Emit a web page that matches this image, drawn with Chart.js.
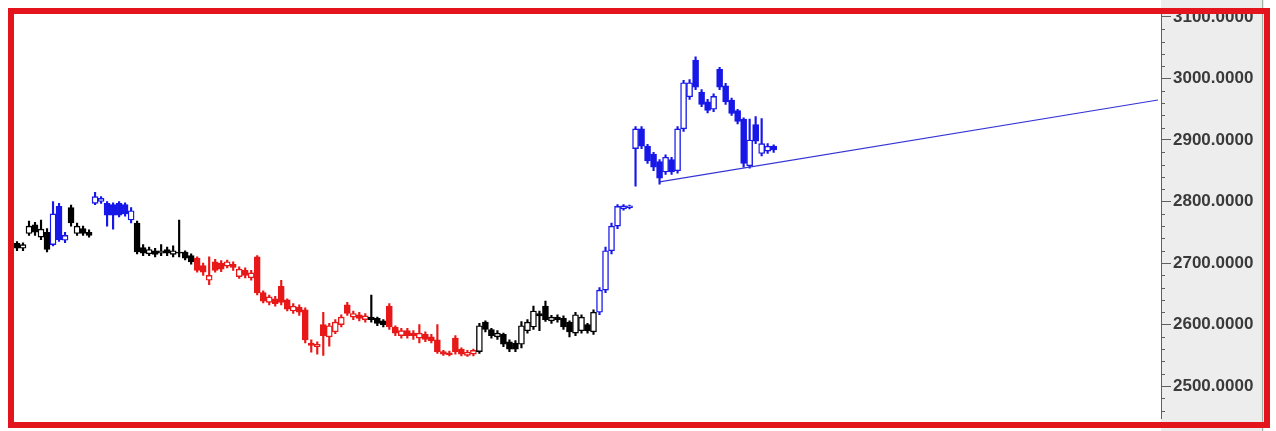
<!DOCTYPE html>
<html>
<head>
<meta charset="utf-8">
<script src="https://cdn.jsdelivr.net/npm/chart.js@4.4.1/dist/chart.umd.min.js"></script>
<style>
html, body { margin: 0; padding: 0; background: #fff; }
#wrap { position: relative; width: 1276px; height: 431px; }
#frame { position: absolute; left: 8px; top: 8px; width: 1262px; height: 420px; box-sizing: border-box; border: 6px solid #e3141b; pointer-events: none; }
</style>
</head>
<body>
<div id="wrap"><canvas id="chart" width="1276" height="431"></canvas><div id="frame"></div></div>
<script>
// candle data (oldest first)
var opens = [
    2732,2724,2748,2762,2742,2750,2730,2792,2737,2790,
    2748,2756,2750,2797,2800,2797,2795,2797,2795,2770,
    2765,2725,2715,2720,2716,2722,2714,2718,2718,2712,
    2708,2696,2672,2702,2700,2695,2698,2678,2688,2676,
    2710,2652,2636,2642,2662,2640,2622,2628,2624,2570,
    2564,2600,2580,2588,2600,2632,2612,2616,2608,2612,
    2610,2606,2630,2596,2582,2590,2586,2578,2584,2580,
    2575,2556,2554,2578,2560,2550,2552,2556,2604,2592,
    2580,2584,2572,2570,2568,2590,2596,2618,2630,2606,
    2612,2610,2604,2586,2590,2600,2588,2620,2656,2720,
    2760,2788,2790,2886,2918,2890,2877,2865,2848,2868,
    2850,2918,2970,3030,2978,2962,2950,3015,2988,2965,
    2948,2934,2858,2925,2878,2882,2890
];
var highs = [
    2735,2733,2768,2766,2770,2756,2800,2797,2750,2794,
    2765,2760,2754,2815,2808,2800,2798,2800,2798,2790,
    2768,2730,2726,2724,2730,2726,2728,2770,2720,2715,
    2710,2700,2710,2706,2704,2705,2702,2694,2692,2688,
    2712,2655,2648,2646,2672,2642,2634,2632,2627,2575,
    2572,2620,2602,2608,2616,2636,2622,2620,2618,2648,
    2612,2608,2634,2598,2594,2594,2590,2600,2588,2584,
    2600,2558,2557,2582,2562,2558,2560,2602,2606,2594,
    2590,2586,2575,2574,2605,2608,2630,2622,2638,2615,
    2616,2614,2606,2620,2616,2602,2624,2660,2726,2765,
    2795,2795,2794,2922,2922,2893,2880,2868,2876,2872,
    2922,2997,2998,3035,2982,2966,2975,3018,2992,2968,
    2950,2936,2934,2938,2935,2894,2892
];
var lows = [
    2720,2720,2745,2745,2738,2718,2728,2735,2733,2760,
    2745,2745,2742,2795,2797,2760,2755,2775,2776,2765,
    2715,2712,2712,2710,2712,2712,2710,2710,2705,2698,
    2685,2680,2665,2685,2686,2692,2688,2675,2676,2672,
    2648,2635,2632,2630,2632,2622,2618,2615,2570,2555,
    2552,2550,2565,2585,2596,2615,2608,2606,2604,2604,
    2598,2596,2592,2582,2578,2578,2576,2570,2572,2570,
    2553,2550,2549,2552,2549,2548,2549,2553,2588,2578,
    2576,2564,2556,2556,2562,2586,2592,2590,2605,2602,
    2604,2592,2580,2582,2586,2586,2584,2616,2652,2715,
    2756,2786,2788,2825,2886,2862,2850,2828,2844,2844,
    2846,2914,2966,2982,2954,2944,2946,2982,2958,2940,
    2926,2856,2854,2894,2874,2878,2880
];
var closes = [
    2724,2730,2760,2750,2755,2722,2780,2738,2745,2765,
    2760,2748,2745,2808,2805,2778,2778,2778,2780,2785,
    2718,2716,2722,2714,2720,2716,2720,2716,2708,2702,
    2688,2685,2680,2688,2690,2702,2693,2690,2680,2684,
    2652,2638,2645,2634,2636,2625,2630,2620,2575,2566,
    2568,2582,2598,2604,2612,2618,2618,2610,2614,2608,
    2602,2600,2596,2586,2590,2582,2582,2586,2576,2574,
    2556,2552,2551,2556,2552,2555,2558,2598,2592,2582,
    2586,2568,2560,2560,2598,2604,2622,2614,2608,2612,
    2608,2596,2588,2616,2612,2590,2620,2656,2720,2760,
    2792,2793,2793,2918,2890,2866,2856,2838,2872,2848,
    2918,2993,2993,2986,2958,2948,2971,2986,2962,2943,
    2930,2862,2900,2898,2894,2890,2884
];

// colour segments: index where each starts
var segStart = [0, 6, 9, 13, 20, 30, 59, 62, 77, 97];
var segColor = ['black', 'blue', 'black', 'blue', 'black', 'red', 'black', 'red', 'black', 'blue'];

// trend line: slot index and price at each end
var trendIdx = [107, 190];
var trendVal = [2832, 2965];

var totalSlots = 191;
var yTicks = [2500, 2600, 2700, 2800, 2900, 3000, 3100];
var yMin = 2446.8, yMax = 3104.8, minorStep = 20;

var palette = { black: '#000000', blue: '#1717e8', red: '#e81818' };

function colorAt(i) {
    var c = segColor[0];
    for (var s = 0; s < segStart.length; s++) {
        if (i >= segStart[s]) c = segColor[s];
    }
    return palette[c];
}

var labels = [];
for (var i = 0; i < totalSlots; i++) labels.push(String(i));

var colors = opens.map(function(o, i) { return colorAt(i); });
var wicks = lows.map(function(l, i) { return [l, highs[i]]; });
var bodies = opens.map(function(o, i) { return [Math.min(o, closes[i]), Math.max(o, closes[i])]; });
var bodyFill = opens.map(function(o, i) { return closes[i] < o ? colors[i] : '#ffffff'; });

var trend = labels.map(function() { return null; });
trend[trendIdx[0]] = trendVal[0];
trend[trendIdx[1]] = trendVal[1];

var axisPanel = {
    id: 'axisPanel',
    beforeDraw: function(chart) {
        var ctx = chart.ctx, a = chart.chartArea;
        ctx.save();
        ctx.fillStyle = '#ededed';
        ctx.fillRect(a.right, 0, chart.width - 12 - a.right, chart.height);
        ctx.strokeStyle = '#9fb0a4';
        ctx.lineWidth = 1;
        ctx.beginPath();
        ctx.moveTo(chart.width - 13.5, 0);
        ctx.lineTo(chart.width - 13.5, chart.height);
        ctx.stroke();
        ctx.restore();
    },
    afterDraw: function(chart) {
        var y = chart.scales.y, ctx = chart.ctx, x0 = chart.chartArea.right;
        ctx.save();
        ctx.strokeStyle = '#606060';
        ctx.lineWidth = 1;
        for (var v = Math.ceil(y.min / minorStep) * minorStep; v <= y.max; v += minorStep) {
            if (v % 100 === 0) continue;
            var py = Math.round(y.getPixelForValue(v)) + 0.5;
            ctx.beginPath();
            ctx.moveTo(x0, py);
            ctx.lineTo(x0 + 4, py);
            ctx.stroke();
        }
        ctx.restore();
    }
};

new Chart(document.getElementById('chart').getContext('2d'), {
    type: 'bar',
    data: {
        labels: labels,
        datasets: [
            { type: 'line', data: trend, borderColor: '#3434d6', borderWidth: 1.2, pointRadius: 0, spanGaps: true, order: 0 },
            { data: bodies, backgroundColor: bodyFill, borderColor: colors, borderWidth: 1.4, borderSkipped: false, barThickness: 6, grouped: false, order: 1 },
            { data: wicks, backgroundColor: colors, borderWidth: 0, barThickness: 1.5, grouped: false, order: 2 }
        ]
    },
    options: {
        responsive: false,
        animation: false,
        devicePixelRatio: 1,
        layout: { padding: { left: 14, top: 14, bottom: 9, right: 0 } },
        plugins: { legend: { display: false }, tooltip: { enabled: false } },
        scales: {
            x: { type: 'category', display: false, offset: true, grid: { display: false } },
            y: {
                position: 'right',
                min: yMin,
                max: yMax,
                afterBuildTicks: function(scale) {
                    scale.ticks = yTicks.map(function(v) { return { value: v }; });
                },
                afterFit: function(scale) { scale.width = 115; },
                grid: { drawOnChartArea: false, tickLength: 10, tickColor: '#606060' },
                border: { display: true, color: '#606060', width: 1 },
                ticks: {
                    padding: 2,
                    color: '#3a3a3a',
                    font: { family: 'Liberation Sans, Arial, sans-serif', size: 17, weight: 'bold' },
                    callback: function(v) { return Number(v).toFixed(4); }
                }
            }
        }
    },
    plugins: [axisPanel]
});
</script>
</body>
</html>
